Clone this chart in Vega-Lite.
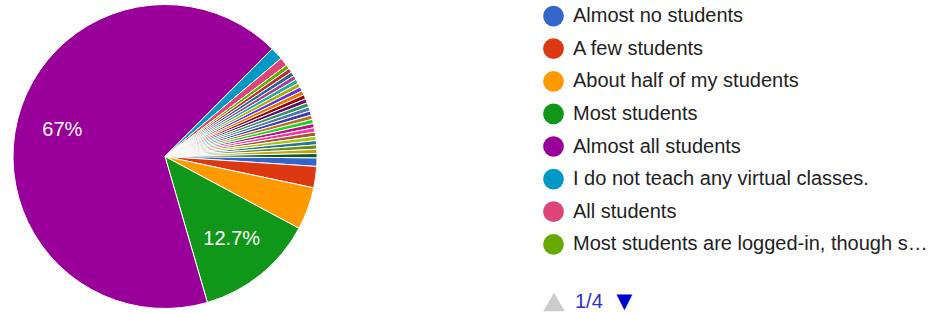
{
  "$schema": "https://vega.github.io/schema/vega-lite/v6.json",
  "width": 330,
  "height": 313,
  "padding": 0,
  "background": "#ffffff",
  "config": {"view": {"stroke": null}, "font": "Liberation Sans"},
  "layer": [
    {
      "data": {"name": "responses", "values": [
        {"idx": 1, "answer": "Almost no students", "count": 2, "label": ""},
        {"idx": 2, "answer": "A few students", "count": 5, "label": ""},
        {"idx": 3, "answer": "About half of my students", "count": 10, "label": ""},
        {"idx": 4, "answer": "Most students", "count": 28, "label": "12.7%"},
        {"idx": 5, "answer": "Almost all students", "count": 148, "label": "67%"},
        {"idx": 6, "answer": "I do not teach any virtual classes.", "count": 3, "label": ""},
        {"idx": 7, "answer": "All students", "count": 2, "label": ""},
        {"idx": 8, "answer": "Most students are logged-in, though some do not participate", "count": 1, "label": ""},
        {"idx": 9, "answer": "Other response 9", "count": 1, "label": ""},
        {"idx": 10, "answer": "Other response 10", "count": 1, "label": ""},
        {"idx": 11, "answer": "Other response 11", "count": 1, "label": ""},
        {"idx": 12, "answer": "Other response 12", "count": 1, "label": ""},
        {"idx": 13, "answer": "Other response 13", "count": 1, "label": ""},
        {"idx": 14, "answer": "Other response 14", "count": 1, "label": ""},
        {"idx": 15, "answer": "Other response 15", "count": 1, "label": ""},
        {"idx": 16, "answer": "Other response 16", "count": 1, "label": ""},
        {"idx": 17, "answer": "Other response 17", "count": 1, "label": ""},
        {"idx": 18, "answer": "Other response 18", "count": 1, "label": ""},
        {"idx": 19, "answer": "Other response 19", "count": 1, "label": ""},
        {"idx": 20, "answer": "Other response 20", "count": 1, "label": ""},
        {"idx": 21, "answer": "Other response 21", "count": 1, "label": ""},
        {"idx": 22, "answer": "Other response 22", "count": 1, "label": ""},
        {"idx": 23, "answer": "Other response 23", "count": 1, "label": ""},
        {"idx": 24, "answer": "Other response 24", "count": 1, "label": ""},
        {"idx": 25, "answer": "Other response 25", "count": 1, "label": ""},
        {"idx": 26, "answer": "Other response 26", "count": 1, "label": ""},
        {"idx": 27, "answer": "Other response 27", "count": 1, "label": ""},
        {"idx": 28, "answer": "Other response 28", "count": 1, "label": ""},
        {"idx": 29, "answer": "Other response 29", "count": 1, "label": ""},
        {"idx": 30, "answer": "Other response 30", "count": 1, "label": ""}
      ]},
      "layer": [
        {
          "mark": {"type": "arc", "outerRadius": 152, "stroke": "#ffffff", "strokeWidth": 1},
          "encoding": {
            "theta": {"field": "count", "type": "quantitative", "stack": true, "scale": {"range": [1.5795, 7.8627]}},
            "order": {"field": "idx", "type": "quantitative"},
            "color": {
              "field": "answer", "type": "nominal",
              "sort": {"field": "idx"},
              "scale": {
                "domain": ["Almost no students", "A few students", "About half of my students", "Most students", "Almost all students", "I do not teach any virtual classes.", "All students", "Most students are logged-in, though some do not participate", "Other response 9", "Other response 10", "Other response 11", "Other response 12", "Other response 13", "Other response 14", "Other response 15", "Other response 16", "Other response 17", "Other response 18", "Other response 19", "Other response 20", "Other response 21", "Other response 22", "Other response 23", "Other response 24", "Other response 25", "Other response 26", "Other response 27", "Other response 28", "Other response 29", "Other response 30"],
                "range": ["#3366cc", "#dc3912", "#ff9900", "#109618", "#990099", "#0099c6", "#dd4477", "#66aa00", "#b82e2e", "#316395", "#994499", "#22aa99", "#aaaa11", "#6633cc", "#e67300", "#8b0707", "#651067", "#329262", "#5574a6", "#3b3eac", "#b77322", "#16d620", "#b91383", "#f4359e", "#9c5935", "#a9c413", "#2a778d", "#668d1c", "#bea413", "#0c5922"]
              },
              "legend": {
                "values": ["Almost no students", "A few students", "About half of my students", "Most students", "Almost all students", "I do not teach any virtual classes.", "All students", "Most students are logged-in, though some do not participate"],
                "orient": "none",
                "legendX": 543,
                "legendY": 5.6,
                "padding": 0,
                "title": null,
                "symbolType": "circle",
                "symbolSize": 430,
                "symbolStrokeWidth": 0,
                "symbolOpacity": 1,
                "labelFontSize": 20,
                "labelFont": "Liberation Sans",
                "labelColor": "#222222",
                "labelOffset": 9,
                "labelLimit": 362,
                "rowPadding": 11.6
              }
            }
          }
        },
        {
          "mark": {"type": "text", "radius": 106, "color": "#ffffff", "fontSize": 20, "font": "Liberation Sans", "align": "center", "baseline": "middle"},
          "encoding": {
            "theta": {"field": "count", "type": "quantitative", "stack": true},
            "order": {"field": "idx", "type": "quantitative"},
            "text": {"field": "label", "type": "nominal"}
          }
        }
      ]
    },
    {
      "data": {"values": [{"pager": "1/4"}]},
      "mark": {"type": "point", "filled": true, "opacity": 0, "color": "#cccccc", "size": 460},
      "encoding": {
        "shape": {
          "field": "pager", "type": "nominal",
          "scale": {"domain": ["1/4"], "range": ["triangle-up"]},
          "legend": {
            "orient": "none",
            "legendX": 543,
            "legendY": 291,
            "padding": 0,
            "title": "▼",
            "titleOrient": "right",
            "titleColor": "#0000cc",
            "titleFontSize": 27,
            "titleFont": "Liberation Sans",
            "titleFontWeight": "normal",
            "titlePadding": 8,
            "titleBaseline": "middle",
            "titleAnchor": "middle",
            "symbolSize": 460,
            "symbolFillColor": "#cccccc",
            "symbolOpacity": 1,
            "symbolStrokeWidth": 0,
            "labelFontSize": 20,
            "labelFont": "Liberation Sans",
            "labelColor": "#2b2bd0",
            "labelOffset": 10
          }
        }
      }
    }
  ]
}
